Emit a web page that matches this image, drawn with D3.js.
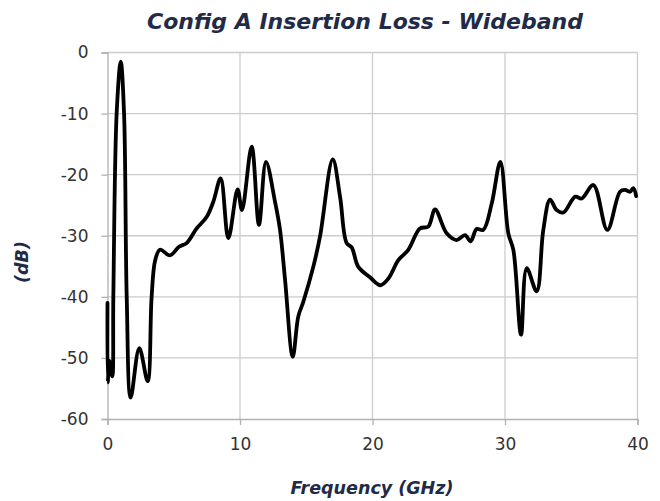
<!DOCTYPE html>
<html>
<head>
<meta charset="utf-8">
<script src="https://cdn.jsdelivr.net/npm/d3@7"></script>
<style>
  body { margin: 0; background: #fff; }
  text { font-family: "DejaVu Sans", sans-serif; }
</style>
</head>
<body>
<script>
'use strict';

// frequency in GHz, insertion loss in dB
var freqGHz = [0, 0.02, 0.14, 0.36, 0.44, 0.69, 1.0, 1.25, 1.45, 1.75, 2.4, 3.03, 3.33, 3.6,
  3.96, 4.72, 5.4, 5.97, 6.73, 7.49, 7.99, 8.54, 9.12, 9.82, 10.15, 10.88, 11.43, 11.96,
  12.64, 13.02, 13.4, 13.98, 14.4, 14.78, 15.53, 16.04, 17.0, 17.55, 18.05, 18.43, 18.93,
  19.81, 20.6, 21.2, 21.95, 22.7, 23.58, 24.21, 24.72, 25.6, 26.35, 26.98, 27.41, 27.86,
  28.36, 29.0, 29.65, 30.25, 30.63, 31.21, 31.64, 32.39, 32.89, 33.4, 33.9, 34.4, 35.3,
  35.79, 36.67, 37.72, 38.68, 39.06, 39.43, 39.68, 39.9];
var lossDb = [-41, -54, -50.5, -53, -40, -10, -1.5, -10, -40, -56.5, -48.4, -53.8, -40, -34,
  -32.3, -33.2, -31.8, -31.2, -28.8, -26.9, -24.4, -20.6, -30.4, -22.4, -25.8, -15.4, -28.2, -17.9,
  -24.4, -29, -37.2, -49.8, -43.2, -40.8, -35.1, -30.1, -17.5, -23.6, -31.2, -31.9, -35.1,
  -36.8, -38.1, -37, -34, -32.3, -28.8, -28.5, -25.7, -29.6, -30.7, -29.9, -30.9, -28.9,
  -29.05, -24.7, -17.9, -29.6, -32.3, -46.2, -35.3, -39.1, -29.05, -24.1, -25.8, -26.2, -23.6,
  -23.9, -21.7, -29.05, -22.8, -22.5, -22.8, -22.2, -23.5];

var xTicks = [0, 10, 20, 30, 40];
var yTicks = [0, -10, -20, -30, -40, -50, -60];

var chartTitle = 'Config A Insertion Loss - Wideband';
var xTitle = 'Frequency (GHz)';
var yTitle = '(dB)';

var width = 660, height = 501;
var plotLeft = 107.5, plotRight = 637.5, plotTop = 52.5, plotBottom = 419;

var svg = d3.select('body').append('svg')
  .attr('width', width)
  .attr('height', height);

var x = d3.scaleLinear().domain([0, 40]).range([plotLeft, plotRight]);
var y = d3.scaleLinear().domain([-60, 0]).range([plotBottom, plotTop]);

// gridlines
svg.append('g').selectAll('line').data(xTicks.slice(1)).enter().append('line')
  .attr('x1', function (d) { return x(d); })
  .attr('x2', function (d) { return x(d); })
  .attr('y1', plotTop).attr('y2', plotBottom)
  .attr('stroke', '#cccccc').attr('stroke-width', 1.3);

svg.append('g').selectAll('line').data(yTicks.slice(0, -1)).enter().append('line')
  .attr('x1', plotLeft).attr('x2', plotRight)
  .attr('y1', function (d) { return y(d); })
  .attr('y2', function (d) { return y(d); })
  .attr('stroke', '#cccccc').attr('stroke-width', 1.3);

// axes
var xAxis = svg.append('g')
  .attr('transform', 'translate(0,' + plotBottom + ')')
  .call(d3.axisBottom(x).tickValues(xTicks).tickSize(6).tickPadding(13));
var yAxis = svg.append('g')
  .attr('transform', 'translate(' + plotLeft + ',0)')
  .call(d3.axisLeft(y).tickValues(yTicks).tickSize(6).tickPadding(13)
    .tickFormat(d3.format('d')));

[xAxis, yAxis].forEach(function (g) {
  g.select('.domain').attr('stroke', '#b0b0b0').attr('stroke-width', 1.3);
  g.selectAll('.tick line').attr('stroke', '#b0b0b0').attr('stroke-width', 1.3);
  g.selectAll('.tick text')
    .attr('fill', '#333')
    .style('font-size', '17px');
});
yAxis.selectAll('.tick text').text(function (d) { return d; });

// curve
var line = d3.line()
  .x(function (d, i) { return x(freqGHz[i]); })
  .y(function (d) { return y(d); })
  .curve(d3.curveCatmullRom.alpha(0.5));

svg.append('path')
  .datum(lossDb)
  .attr('d', line)
  .attr('fill', 'none')
  .attr('stroke', '#000')
  .attr('stroke-width', 3.8)
  .attr('stroke-linejoin', 'round')
  .attr('stroke-linecap', 'round');

// titles
svg.append('text')
  .attr('x', 365).attr('y', 29)
  .attr('text-anchor', 'middle')
  .attr('fill', '#1f2b47')
  .style('font-size', '22px')
  .style('font-weight', 'bold')
  .style('font-style', 'italic')
  .text(chartTitle);

svg.append('text')
  .attr('x', 372).attr('y', 494)
  .attr('text-anchor', 'middle')
  .attr('fill', '#1f2b47')
  .style('font-size', '17.5px')
  .style('font-weight', 'bold')
  .style('font-style', 'italic')
  .text(xTitle);

svg.append('text')
  .attr('transform', 'translate(28,' + 262 + ') rotate(-90)')
  .attr('text-anchor', 'middle')
  .attr('fill', '#1f2b47')
  .style('font-size', '17.5px')
  .style('font-weight', 'bold')
  .style('font-style', 'italic')
  .text(yTitle);
</script>
</body>
</html>
